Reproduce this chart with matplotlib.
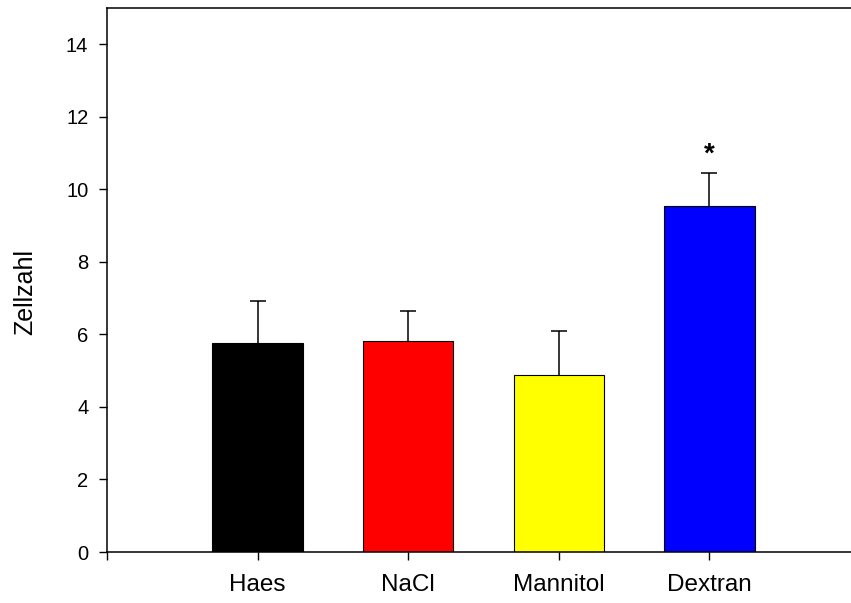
import matplotlib.pyplot as plt

plt.rcParams['font.family'] = ['Liberation Sans', 'DejaVu Sans']

# data
groups = ['Haes', 'NaCl', 'Mannitol', 'Dextran']
means = [5.76, 5.82, 4.88, 9.55]
sem = [1.16, 0.83, 1.21, 0.90]
colors = ['black', 'red', 'yellow', 'blue']
yticks = [0, 2, 4, 6, 8, 10, 12, 14]

fig = plt.figure(figsize=(8.51, 6.03), dpi=100)
ax = fig.add_axes([107 / 851, 51 / 603, 1 - 107 / 851, 544 / 603])

pos = list(range(1, len(groups) + 1))
ax.bar(pos, means, width=0.6, color=colors, edgecolor='black', linewidth=0.8, zorder=2)
# only the upper half of the error bars is drawn
_, caps, _ = ax.errorbar(pos, means, yerr=[[0] * len(sem), sem], fmt='none', ecolor='black',
                         elinewidth=1.1, capsize=5.8, capthick=1.1, zorder=1)
caps[0].set_visible(False)  # drop the lower caps

# significance marker above Dextran
ax.text(pos[3], means[3] + sem[3] + 0.5, '*', ha='center', va='center',
        fontsize=20, fontweight='bold')

ax.set_xlim(0, 4.94)
ax.set_ylim(0, 15)
ax.set_xticks([0] + pos)
ax.set_xticklabels([''] + groups, fontsize=17.5)
ax.set_yticks(yticks)
ax.set_yticklabels([str(t) for t in yticks], fontsize=14.5)
ax.set_ylabel('Zellzahl', fontsize=18)
ax.yaxis.set_label_coords(-0.094, 0.478)

ax.spines['right'].set_visible(False)
for s in ['left', 'bottom', 'top']:
    ax.spines[s].set_linewidth(1.1)
ax.tick_params(axis='both', direction='out', length=5.5, width=1.0)
ax.tick_params(axis='x', pad=10)
ax.tick_params(axis='y', pad=8)

fig.savefig('out.png', dpi=100)
